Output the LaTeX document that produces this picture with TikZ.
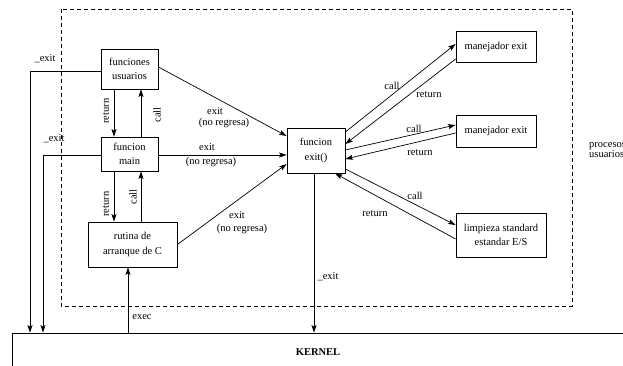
\documentclass[tikz,border=0pt]{standalone}
\usepackage{fontspec}
\setmainfont{Liberation Serif}
\usetikzlibrary{arrows.meta}
\begin{document}
\begin{tikzpicture}[x=1pt,y=-1pt,
  box/.style={draw,line width=0.8pt,inner sep=0pt,align=center,
              font=\fontsize{10.5}{14.5}\selectfont},
  lbl/.style={inner sep=0pt,font=\fontsize{10.5}{12}\selectfont},
  arr/.style={line width=0.7pt,-{Stealth[length=7.5pt,width=5pt,inset=1.5pt]}}]
\useasboundingbox (0,0) rectangle (623,366);

% user process area
\draw[dash pattern=on 4pt off 3pt,line width=0.8pt] (61,9) rectangle (572,306);
\node[lbl,anchor=west,align=left,font=\fontsize{10.5}{10.5}\selectfont] (proc) at (589,150) {procesos\\usuarios};

% boxes
\node[box,minimum width=57pt,minimum height=40pt] (fu) at (129.5,69) {funciones\\usuarios};
\node[box,minimum width=57pt,minimum height=34pt] (ma) at (129.5,154) {funcion\\main};
\node[box,minimum width=89pt,minimum height=45pt] (ru) at (132.5,244.5) {rutina de\\arranque de C};
\node[box,minimum width=58pt,minimum height=45pt] (ex) at (316,150.5) {funcion\\exit()};
\node[box,minimum width=80pt,minimum height=31pt] (m1) at (496,46.5) {manejador exit};
\node[box,minimum width=80pt,minimum height=32pt] (m2) at (496,131) {manejador exit};
\node[box,minimum width=90pt,minimum height=44pt] (li) at (501,235) {limpieza standard\\estandar E/S};
\node[draw,line width=0.8pt,minimum width=612pt,minimum height=38pt,
      font=\fontsize{10.5}{12}\selectfont\bfseries] (ke) at (318,352) {KERNEL};

% call / return between user functions, main and startup routine
\draw[arr] ([xshift=-15.5pt]fu.south) -- ([xshift=-15.5pt]ma.north);
\draw[arr] ([xshift=11.5pt]ma.north) -- ([xshift=11.5pt]fu.south);
\coordinate (mr) at ([xshift=-15.5pt]ma.south);
\coordinate (mc) at ([xshift=11.5pt]ma.south);
\draw[arr] (mr) -- (mr |- ru.north);
\draw[arr] (mc |- ru.north) -- (mc);
\node[lbl,rotate=90] (t1) at (106,111) {return};
\node[lbl,rotate=90] (t2) at (157,115) {call};
\node[lbl,rotate=90] (t3) at (106,204) {return};
\node[lbl,rotate=90] (t4) at (133,197) {call};

% direct _exit to the kernel
\draw[arr] ([yshift=-2pt]fu.west) -| ([xshift=-288pt]ke.north);
\draw[arr] ([yshift=-1pt]ma.west) -| ([xshift=-275pt]ke.north);
\node[lbl] (x1) at (45,59) {\_exit};
\node[lbl] (x2) at (54,139) {\_exit};

% exec from the kernel
\coordinate (ce) at ([xshift=-4.5pt]ru.south);
\draw[arr] (ce |- ke.north) -- (ce);
\node[lbl] (x3) at (142,317) {exec};

% exit() calls
\draw[arr] ([yshift=2pt]fu.east) -- ([yshift=14.5pt]ex.west);
\draw[arr] ([yshift=-1pt]ma.east) -- ([yshift=-4.5pt]ex.west);
\draw[arr] (ru.east) -- ([yshift=-13.5pt]ex.west);
\node[lbl] (e1) at (215,111.5) {exit};
\node[lbl] (n1) at (224,123) {(no regresa)};
\node[lbl] (e2) at (207,147) {exit};
\node[lbl] (n2) at (211,162) {(no regresa)};
\node[lbl] (e3) at (237,215) {exit};
\node[lbl] (n3) at (242,229) {(no regresa)};

% exit handlers
\draw[arr] ([yshift=18.5pt]ex.east) -- ([yshift=2.5pt]m1.west);
\draw[arr] ([yshift=-12.5pt]m1.west) -- ([yshift=6.5pt]ex.east);
\node[lbl] (c1) at (392,86) {call};
\node[lbl] (r1) at (429,95) {return};
\draw[arr] ([yshift=0.5pt]ex.east) -- ([yshift=6pt]m2.west);
\draw[arr] ([yshift=-2pt]m2.west) -- ([yshift=-8.5pt]ex.east);
\node[lbl] (c2) at (414,129) {call};
\node[lbl] (r2) at (420,153) {return};
\draw[arr] ([yshift=-18.5pt]ex.east) -- ([yshift=10pt]li.west);
\draw[arr] ([yshift=-4pt]li.west) -- ([xshift=19pt]ex.south);
\node[lbl] (c3) at (415,196) {call};
\node[lbl] (r3) at (375,214) {return};

% _exit from exit() to the kernel
\coordinate (cx) at ([xshift=-2pt]ex.south);
\draw[arr] (cx) -- (cx |- ke.north);
\node[lbl] (x4) at (328,277) {\_exit};
\end{tikzpicture}
\end{document}
